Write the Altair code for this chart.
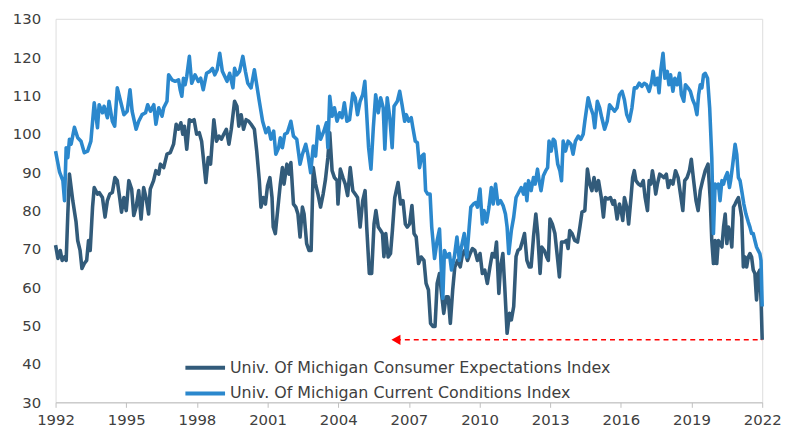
import altair as alt
import pandas as pd

# (year, index value)
expectations = [
    (1992.00, 71.0), (1992.10, 67.5), (1992.20, 69.6), (1992.28, 67.0), (1992.38, 67.9), (1992.45, 67.0),
    (1992.52, 79.1), (1992.59, 89.5), (1992.73, 82.6), (1992.87, 77.0), (1992.94, 72.2), (1993.04, 69.6),
    (1993.12, 64.9), (1993.22, 66.2), (1993.32, 67.0), (1993.40, 72.2), (1993.47, 69.6), (1993.57, 80.9),
    (1993.64, 86.0), (1993.78, 84.3), (1993.85, 84.7), (1993.99, 83.4), (1994.10, 78.3), (1994.20, 82.6),
    (1994.30, 84.3), (1994.41, 84.7), (1994.52, 88.6), (1994.62, 87.8), (1994.72, 83.4), (1994.80, 79.6),
    (1994.90, 83.4), (1995.00, 80.0), (1995.11, 87.8), (1995.23, 85.6), (1995.32, 78.7), (1995.42, 80.9),
    (1995.53, 85.2), (1995.63, 77.8), (1995.74, 86.0), (1995.84, 83.4), (1995.95, 79.1), (1996.02, 85.6),
    (1996.16, 87.8), (1996.26, 90.4), (1996.38, 89.5), (1996.45, 92.1), (1996.59, 91.2), (1996.73, 94.7),
    (1996.87, 95.1), (1997.01, 97.3), (1997.12, 102.5), (1997.22, 101.2), (1997.32, 102.9), (1997.40, 99.9),
    (1997.47, 102.0), (1997.57, 96.0), (1997.68, 103.7), (1997.78, 103.3), (1997.88, 103.7), (1997.99, 99.9),
    (1998.10, 100.3), (1998.20, 98.1), (1998.30, 92.1), (1998.38, 87.3), (1998.48, 93.8), (1998.58, 92.1),
    (1998.72, 103.7), (1998.83, 98.1), (1998.94, 99.4), (1999.04, 98.6), (1999.14, 99.9), (1999.25, 101.2),
    (1999.36, 97.3), (1999.46, 101.2), (1999.60, 108.5), (1999.70, 107.2), (1999.78, 102.0), (1999.88, 105.0),
    (1999.98, 101.2), (2000.09, 103.7), (2000.20, 103.3), (2000.30, 102.5), (2000.44, 101.2), (2000.54, 95.5),
    (2000.65, 87.8), (2000.72, 80.9), (2000.82, 83.4), (2000.91, 81.7), (2001.00, 86.5), (2001.10, 88.6),
    (2001.19, 83.4), (2001.24, 75.7), (2001.33, 74.0), (2001.54, 86.9), (2001.63, 91.2), (2001.70, 86.9),
    (2001.82, 92.1), (2001.91, 89.5), (2001.99, 92.5), (2002.10, 81.7), (2002.20, 80.9), (2002.29, 79.1),
    (2002.38, 73.1), (2002.48, 80.9), (2002.55, 79.1), (2002.66, 71.4), (2002.76, 69.6), (2002.85, 69.6),
    (2002.94, 91.2), (2003.04, 86.9), (2003.14, 84.3), (2003.25, 80.9), (2003.36, 84.3), (2003.46, 88.2),
    (2003.56, 93.8), (2003.64, 100.3), (2003.74, 90.4), (2003.84, 88.6), (2003.95, 87.8), (2003.99, 81.7),
    (2004.09, 90.8), (2004.20, 88.6), (2004.30, 86.9), (2004.40, 83.9), (2004.51, 91.2), (2004.62, 85.2),
    (2004.72, 84.3), (2004.82, 83.4), (2004.93, 75.7), (2005.04, 82.6), (2005.14, 85.2), (2005.21, 75.7),
    (2005.32, 63.6), (2005.42, 63.6), (2005.52, 76.5), (2005.60, 80.0), (2005.70, 75.7), (2005.80, 74.8),
    (2005.88, 74.0), (2005.94, 68.0), (2006.02, 74.0), (2006.12, 67.9), (2006.22, 68.8), (2006.30, 74.8),
    (2006.40, 83.4), (2006.54, 87.3), (2006.65, 81.7), (2006.75, 82.6), (2006.85, 76.5), (2006.93, 75.7),
    (2007.03, 76.5), (2007.13, 81.3), (2007.22, 74.0), (2007.31, 73.1), (2007.41, 66.2), (2007.52, 67.9),
    (2007.64, 67.0), (2007.73, 61.0), (2007.83, 59.3), (2007.92, 50.6), (2008.02, 49.8), (2008.11, 49.8),
    (2008.20, 61.0), (2008.30, 63.6), (2008.37, 59.3), (2008.48, 53.2), (2008.58, 57.5), (2008.67, 57.5),
    (2008.76, 50.6), (2008.86, 59.3), (2008.95, 65.3), (2009.07, 67.0), (2009.18, 65.3), (2009.28, 68.8),
    (2009.37, 69.6), (2009.49, 67.0), (2009.60, 68.8), (2009.70, 70.1), (2009.80, 69.6), (2009.91, 67.0),
    (2010.02, 68.8), (2010.12, 63.6), (2010.22, 64.5), (2010.33, 61.0), (2010.44, 65.3), (2010.54, 68.8),
    (2010.64, 67.9), (2010.72, 71.8), (2010.82, 58.4), (2010.89, 65.3), (2010.99, 68.8), (2011.07, 60.1),
    (2011.17, 48.0), (2011.27, 53.2), (2011.35, 51.5), (2011.45, 55.0), (2011.55, 68.0), (2011.63, 69.6),
    (2011.73, 70.1), (2011.83, 72.2), (2011.91, 74.0), (2012.01, 67.0), (2012.11, 65.3), (2012.19, 65.3),
    (2012.29, 73.1), (2012.39, 79.1), (2012.47, 74.0), (2012.57, 63.6), (2012.64, 70.5), (2012.75, 69.6),
    (2012.85, 67.9), (2012.92, 67.0), (2012.99, 77.8), (2013.09, 76.5), (2013.20, 74.0), (2013.32, 67.0),
    (2013.39, 62.7), (2013.48, 71.8), (2013.60, 71.8), (2013.69, 72.2), (2013.76, 70.1), (2013.83, 74.8),
    (2013.93, 74.0), (2014.04, 72.2), (2014.16, 71.8), (2014.26, 75.7), (2014.35, 79.6), (2014.47, 80.0),
    (2014.58, 90.8), (2014.68, 86.9), (2014.77, 85.2), (2014.86, 88.6), (2014.96, 85.2), (2015.05, 87.8),
    (2015.17, 83.4), (2015.26, 78.3), (2015.34, 83.4), (2015.45, 83.0), (2015.56, 83.4), (2015.66, 81.7),
    (2015.73, 82.6), (2015.84, 77.8), (2015.94, 81.7), (2016.01, 80.0), (2016.08, 77.4), (2016.15, 83.4),
    (2016.25, 80.9), (2016.33, 76.5), (2016.43, 83.4), (2016.50, 88.6), (2016.57, 90.4), (2016.64, 87.8),
    (2016.75, 86.9), (2016.85, 86.5), (2016.95, 87.8), (2017.03, 83.4), (2017.13, 80.0), (2017.20, 87.8),
    (2017.27, 86.9), (2017.34, 90.4), (2017.41, 87.8), (2017.48, 84.3), (2017.55, 86.9), (2017.65, 89.5),
    (2017.73, 89.1), (2017.83, 88.6), (2017.93, 89.5), (2018.01, 86.0), (2018.11, 87.8), (2018.21, 86.9),
    (2018.32, 90.4), (2018.43, 88.6), (2018.53, 84.3), (2018.63, 80.0), (2018.71, 87.8), (2018.81, 88.6),
    (2018.91, 90.4), (2018.99, 93.4), (2019.09, 87.8), (2019.19, 82.6), (2019.28, 80.0), (2019.37, 85.2),
    (2019.47, 87.8), (2019.58, 90.4), (2019.70, 92.1), (2019.79, 83.4), (2019.86, 72.2), (2019.93, 66.2),
    (2020.00, 72.2), (2020.07, 66.2), (2020.14, 72.2), (2020.21, 71.4), (2020.29, 70.5), (2020.36, 75.7),
    (2020.43, 79.1), (2020.50, 71.4), (2020.57, 75.7), (2020.64, 74.0), (2020.71, 70.5), (2020.78, 80.9),
    (2020.85, 81.7), (2020.92, 82.6), (2020.99, 83.4), (2021.06, 80.9), (2021.13, 78.3), (2021.20, 65.3),
    (2021.27, 67.9), (2021.34, 65.3), (2021.41, 67.9), (2021.48, 68.8), (2021.55, 67.9), (2021.62, 64.5),
    (2021.69, 63.6), (2021.76, 56.7), (2021.83, 63.6), (2021.90, 64.5), (2021.96, 55.0), (2022.00, 46.3),
]

current_conditions = [
    (1992.00, 95.5), (1992.17, 90.0), (1992.31, 87.8), (1992.38, 82.6), (1992.45, 96.4), (1992.52, 93.8),
    (1992.59, 98.6), (1992.66, 97.3), (1992.80, 101.7), (1992.94, 99.0), (1993.08, 98.1), (1993.22, 95.1),
    (1993.36, 95.5), (1993.50, 98.1), (1993.64, 108.1), (1993.78, 101.6), (1993.85, 107.6), (1993.99, 105.5),
    (1994.06, 107.2), (1994.20, 104.2), (1994.27, 108.5), (1994.41, 103.3), (1994.51, 102.0), (1994.62, 112.0),
    (1994.76, 108.5), (1994.90, 105.0), (1995.04, 105.9), (1995.16, 111.5), (1995.25, 105.9), (1995.42, 101.2),
    (1995.53, 103.3), (1995.67, 105.0), (1995.82, 105.5), (1995.91, 107.6), (1996.03, 105.9), (1996.17, 107.6),
    (1996.26, 102.5), (1996.38, 106.8), (1996.52, 104.6), (1996.59, 106.8), (1996.73, 108.5), (1996.80, 115.4),
    (1996.94, 114.1), (1997.08, 113.7), (1997.22, 114.1), (1997.29, 111.5), (1997.36, 109.8), (1997.43, 114.5),
    (1997.50, 112.8), (1997.57, 115.0), (1997.68, 120.2), (1997.78, 113.2), (1997.92, 115.4), (1998.06, 113.7),
    (1998.16, 114.5), (1998.27, 111.5), (1998.41, 115.8), (1998.55, 116.3), (1998.66, 117.1), (1998.76, 115.4),
    (1998.86, 116.7), (1998.97, 121.0), (1999.08, 116.3), (1999.18, 115.0), (1999.28, 113.7), (1999.39, 115.8),
    (1999.53, 112.0), (1999.60, 117.1), (1999.70, 115.4), (1999.81, 116.3), (1999.95, 120.2), (2000.06, 116.3),
    (2000.16, 113.2), (2000.30, 112.0), (2000.44, 116.7), (2000.54, 112.8), (2000.65, 108.5), (2000.79, 103.3),
    (2000.93, 100.3), (2001.04, 101.6), (2001.14, 98.6), (2001.26, 100.7), (2001.35, 94.7), (2001.47, 96.4),
    (2001.54, 99.0), (2001.63, 96.4), (2001.73, 99.9), (2001.84, 100.3), (2001.99, 103.3), (2002.10, 99.4),
    (2002.24, 98.6), (2002.38, 92.1), (2002.48, 94.7), (2002.62, 97.3), (2002.71, 94.7), (2002.83, 89.9),
    (2002.94, 96.8), (2003.04, 94.2), (2003.14, 102.0), (2003.25, 98.6), (2003.39, 100.7), (2003.50, 102.9),
    (2003.56, 96.4), (2003.64, 109.8), (2003.74, 104.6), (2003.84, 106.8), (2003.95, 103.3), (2004.06, 105.5),
    (2004.16, 104.2), (2004.26, 108.1), (2004.37, 103.3), (2004.48, 103.7), (2004.62, 110.6), (2004.72, 109.4),
    (2004.82, 105.0), (2004.93, 108.5), (2005.04, 110.2), (2005.13, 113.7), (2005.21, 105.0), (2005.29, 96.4),
    (2005.39, 90.8), (2005.49, 101.6), (2005.59, 110.2), (2005.70, 105.5), (2005.80, 109.4), (2005.91, 106.8),
    (2005.98, 96.0), (2006.08, 109.4), (2006.19, 104.2), (2006.29, 96.4), (2006.37, 107.2), (2006.51, 108.5),
    (2006.61, 111.1), (2006.71, 107.6), (2006.82, 103.3), (2006.89, 105.0), (2006.99, 103.3), (2007.10, 104.2),
    (2007.17, 101.6), (2007.27, 98.1), (2007.36, 97.7), (2007.45, 91.2), (2007.55, 94.2), (2007.64, 94.7),
    (2007.71, 85.2), (2007.80, 84.3), (2007.90, 84.3), (2007.97, 75.7), (2008.09, 67.5), (2008.20, 72.2),
    (2008.30, 75.2), (2008.37, 65.3), (2008.44, 57.1), (2008.51, 69.6), (2008.62, 67.9), (2008.72, 68.8),
    (2008.81, 64.5), (2008.93, 67.9), (2009.04, 73.1), (2009.14, 67.0), (2009.23, 70.5), (2009.35, 74.0),
    (2009.46, 67.9), (2009.56, 75.7), (2009.63, 80.9), (2009.74, 81.7), (2009.84, 82.1), (2009.91, 80.9),
    (2010.02, 85.6), (2010.12, 76.5), (2010.19, 80.0), (2010.30, 77.0), (2010.40, 80.9), (2010.50, 86.0),
    (2010.58, 81.7), (2010.68, 86.9), (2010.78, 81.7), (2010.89, 82.6), (2011.00, 81.3), (2011.10, 79.1),
    (2011.17, 75.7), (2011.24, 68.8), (2011.35, 74.8), (2011.45, 78.3), (2011.55, 83.4), (2011.66, 84.7),
    (2011.77, 86.0), (2011.87, 84.3), (2011.94, 86.9), (2012.01, 82.6), (2012.08, 87.8), (2012.19, 85.2),
    (2012.29, 88.6), (2012.36, 86.9), (2012.46, 90.8), (2012.53, 87.8), (2012.61, 85.2), (2012.71, 89.1),
    (2012.81, 90.4), (2012.89, 91.2), (2012.95, 98.1), (2013.04, 95.5), (2013.13, 98.6), (2013.20, 98.1),
    (2013.32, 92.1), (2013.41, 90.4), (2013.48, 87.8), (2013.55, 98.1), (2013.65, 95.5), (2013.76, 98.1),
    (2013.88, 97.3), (2013.97, 94.7), (2014.07, 98.1), (2014.19, 99.4), (2014.30, 98.6), (2014.40, 99.9),
    (2014.47, 103.3), (2014.61, 109.4), (2014.72, 106.8), (2014.82, 105.0), (2014.89, 101.6), (2015.00, 108.5),
    (2015.10, 106.8), (2015.19, 104.2), (2015.31, 101.2), (2015.42, 103.3), (2015.52, 107.6), (2015.62, 106.8),
    (2015.73, 105.9), (2015.84, 106.8), (2015.94, 110.2), (2016.05, 111.1), (2016.15, 108.9), (2016.25, 105.0),
    (2016.36, 103.3), (2016.47, 106.8), (2016.57, 112.0), (2016.67, 112.0), (2016.78, 113.2), (2016.89, 112.4),
    (2016.99, 113.2), (2017.09, 112.8), (2017.20, 111.1), (2017.31, 113.7), (2017.37, 116.3), (2017.45, 112.8),
    (2017.55, 114.5), (2017.62, 110.7), (2017.69, 116.3), (2017.79, 121.0), (2017.87, 114.5), (2017.97, 116.3),
    (2018.04, 112.8), (2018.11, 115.4), (2018.21, 111.1), (2018.29, 114.5), (2018.39, 112.8), (2018.49, 115.8),
    (2018.57, 110.2), (2018.67, 108.5), (2018.74, 112.8), (2018.85, 112.0), (2018.95, 111.1), (2019.05, 108.9),
    (2019.14, 107.6), (2019.23, 105.0), (2019.30, 110.2), (2019.37, 112.8), (2019.44, 112.0), (2019.51, 115.4),
    (2019.58, 115.8), (2019.68, 114.5), (2019.77, 106.8), (2019.86, 93.8), (2019.93, 74.0), (2020.00, 86.9),
    (2020.07, 86.0), (2020.14, 86.9), (2020.21, 82.6), (2020.29, 87.8), (2020.36, 86.9), (2020.43, 88.6),
    (2020.52, 89.9), (2020.61, 86.0), (2020.66, 87.8), (2020.75, 92.1), (2020.85, 97.3), (2020.92, 94.7),
    (2020.99, 88.6), (2021.06, 87.8), (2021.13, 85.2), (2021.22, 81.7), (2021.31, 79.1), (2021.41, 77.0),
    (2021.48, 75.7), (2021.55, 74.0), (2021.62, 74.0), (2021.69, 72.2), (2021.76, 70.5), (2021.83, 69.6),
    (2021.90, 68.8), (2021.95, 67.0), (2022.00, 55.0),
]

series_names = [
    "Univ. Of Michigan Consumer Expectations Index",
    "Univ. Of Michigan Current Conditions Index",
]
series_colors = ["#325B7A", "#2B88CD"]
x_ticks = [1992, 1995, 1998, 2001, 2004, 2007, 2010, 2013, 2016, 2019, 2022]
y_ticks = [30, 40, 50, 60, 70, 80, 90, 100, 110, 120, 130]

# red dashed arrow back to the earlier lows
arrow_tip_year = 2006.45
arrow_end_year = 2022.0
arrow_level = 46.3

df_exp = pd.DataFrame(expectations, columns=["year", "value"]).assign(series=series_names[0])
df_cur = pd.DataFrame(current_conditions, columns=["year", "value"]).assign(series=series_names[1])
df_arrow = pd.DataFrame({"year": [arrow_tip_year], "year2": [arrow_end_year], "value": [arrow_level]})

FONT = "DejaVu Sans"
TEXT = "#404040"

x_enc = alt.X(
    "year:Q",
    scale=alt.Scale(domain=[1992, 2022], nice=False, zero=False),
    axis=alt.Axis(
        values=x_ticks, format="d", title=None, grid=False,
        domainColor="#BFBFBF", domainWidth=1, tickColor="#BFBFBF", tickSize=5,
        labelFontSize=15, labelColor=TEXT, labelFont=FONT, labelPadding=5,
        labelFlush=False, labelOverlap=False,
    ),
)
y_enc = alt.Y(
    "value:Q",
    scale=alt.Scale(domain=[30, 130], nice=False, zero=False),
    axis=alt.Axis(
        values=y_ticks, title=None, grid=False, domain=False, ticks=False, tickSize=0,
        labelFontSize=15, labelColor=TEXT, labelFont=FONT, labelPadding=15,
        labelOverlap=False,
    ),
)
color_enc = alt.Color(
    "series:N",
    scale=alt.Scale(domain=series_names, range=series_colors),
    legend=alt.Legend(
        title=None, orient="none", legendX=139, legendY=340, direction="vertical",
        symbolType="M-2,0H2", symbolSize=400, symbolStrokeWidth=4,
        labelFontSize=16, labelColor=TEXT, labelFont=FONT, labelLimit=0,
        labelOffset=13, rowPadding=6,
    ),
)

dark = alt.Chart(df_exp).mark_line(strokeWidth=3.6, strokeJoin="round").encode(
    x=x_enc, y=y_enc, color=color_enc
)
light = alt.Chart(df_cur).mark_line(strokeWidth=3.6, strokeJoin="round").encode(
    x=x_enc, y=y_enc, color=color_enc
)
arrow_line = alt.Chart(df_arrow).mark_rule(color="#FF0000", strokeWidth=1.5, strokeDash=[5, 4]).encode(
    x=x_enc, x2="year2:Q", y=y_enc
)
arrow_head = alt.Chart(df_arrow).mark_point(
    shape="triangle-left", filled=True, size=110, color="#FF0000", opacity=1
).encode(x=x_enc, y=y_enc)

chart = (
    alt.layer(dark, light, arrow_line, arrow_head)
    .properties(
        width=713, height=387,
        padding={"left": 48, "top": 9, "right": 22, "bottom": 26},
        autosize=alt.AutoSizeParams(type="none"),
    )
    .configure_view(stroke=None)
    .configure(font=FONT)
)

chart.save("out.html", embed_options={"renderer": "svg", "actions": False})
